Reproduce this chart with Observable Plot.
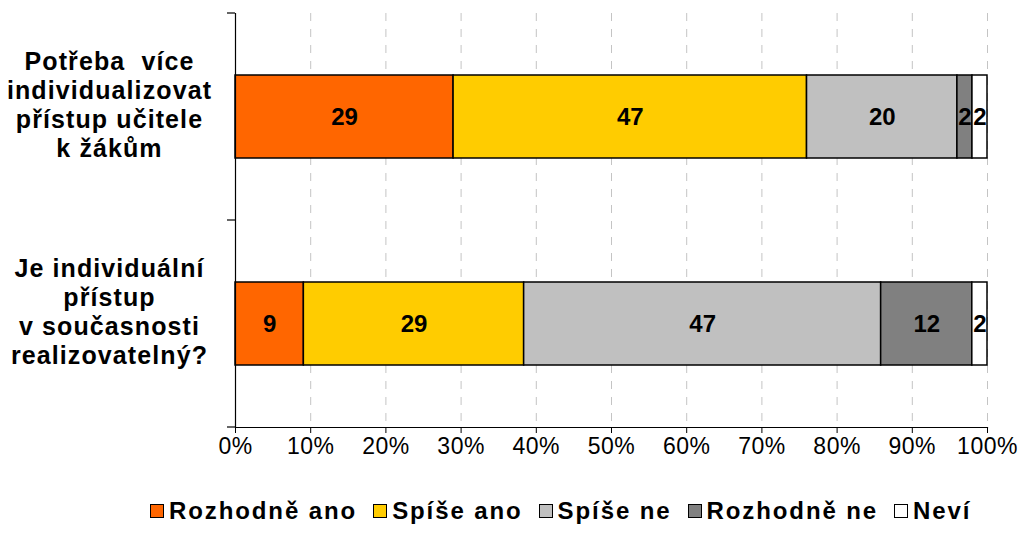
<!DOCTYPE html>
<html>
<head>
<meta charset="utf-8">
<script src="https://cdn.jsdelivr.net/npm/d3@7"></script>
<script src="https://cdn.jsdelivr.net/npm/@observablehq/plot@0.6"></script>
<style>
  body { margin: 0; background: white; font-family: "Liberation Sans", Arial, sans-serif; }
  #chart { position: relative; width: 1020px; height: 550px; }
  #legend { position: absolute; left: 150px; top: 497px; display: flex; align-items: center;
            font-weight: bold; font-size: 24px; letter-spacing: 1.9px; color: #000; white-space: nowrap; }
  .item { display: flex; align-items: center; margin-right: 16px; }
  .sw { width: 14px; height: 14px; border: 1.5px solid #000; margin-right: 5px; box-sizing: border-box; }
</style>
</head>
<body>
<div id="chart"></div>
<script>
const categories = [
  "Potřeba  více\nindividualizovat\npřístup učitele\nk žákům",
  "Je individuální\npřístup\nv současnosti\nrealizovatelný?"
];
const series = ["Rozhodně ano", "Spíše ano", "Spíše ne", "Rozhodně ne", "Neví"];
const colors = ["#ff6600", "#ffcc00", "#c0c0c0", "#808080", "#ffffff"];
const valuesRow1 = [29, 47, 20, 2, 2];
const valuesRow2 = [9, 29, 47, 12, 2];
const rows = [valuesRow1, valuesRow2];

const data = categories.flatMap((c, i) =>
  series.map((s, j) => ({cat: c, series: s, value: rows[i][j]})));

const plot = Plot.plot({
  width: 1020,
  height: 470,
  marginLeft: 235,
  marginRight: 33,
  marginTop: 13,
  marginBottom: 43,
  x: {domain: [0, 1]},
  y: {domain: categories, paddingInner: 0.6, paddingOuter: 0.3},
  color: {domain: series, range: colors},
  style: {fontFamily: "'Liberation Sans', Arial, sans-serif", background: "white", color: "black"},
  marks: [
    Plot.gridX({ticks: 10, stroke: "#c4c4c4", strokeOpacity: 1, strokeDasharray: "8,8"}),
    Plot.barX(data, Plot.stackX({x: "value", y: "cat", fill: "series", offset: "normalize",
      order: series, stroke: "black", strokeWidth: 1.5})),
    Plot.text(data, Plot.stackX({x: "value", y: "cat", z: "series", offset: "normalize",
      order: series, text: "value", fontWeight: "bold", fontSize: 24, fill: "black"})),
    Plot.ruleX([0], {stroke: "black", strokeWidth: 1.2}),
    Plot.frame({anchor: "bottom", stroke: "black", strokeWidth: 1.2}),
    Plot.axisX({ticks: 10, tickFormat: d3.format(".0%"), tickSize: 6, tickPadding: 4,
      fontSize: 23, label: null}),
    Plot.axisY({tickSize: 0, textAnchor: "middle", dx: -117, dy: -13, fontSize: 25, fontWeight: "bold",
      lineHeight: 1.16, label: null})
  ]
});

// band boundary ticks on the y axis, from the plot's own y scale
const ys = plot.scale("y");
const xs = plot.scale("x");
const [r0, r1] = ys.range;
const n = ys.domain.length;
const x0 = xs.range[0];
const svg = d3.select(plot);
for (let i = 0; i <= n; i++) {
  const yy = r0 + (r1 - r0) * i / n;
  svg.append("line").attr("x1", x0 - 8).attr("x2", x0).attr("y1", yy).attr("y2", yy)
    .attr("stroke", "black").attr("stroke-width", 1.2);
}
svg.selectAll('g[aria-label="y-axis tick label"] text').style("letter-spacing", "1.1px");
svg.selectAll('g[aria-label="x-axis tick label"] text').style("letter-spacing", "0.5px");

const chart = document.getElementById("chart");
chart.appendChild(plot);

const legend = document.createElement("div");
legend.id = "legend";
series.forEach((s, i) => {
  const it = document.createElement("div");
  it.className = "item";
  const sw = document.createElement("div");
  sw.className = "sw";
  sw.style.background = colors[i];
  const t = document.createElement("span");
  t.textContent = s;
  it.appendChild(sw); it.appendChild(t);
  legend.appendChild(it);
});
chart.appendChild(legend);
</script>
</body>
</html>
